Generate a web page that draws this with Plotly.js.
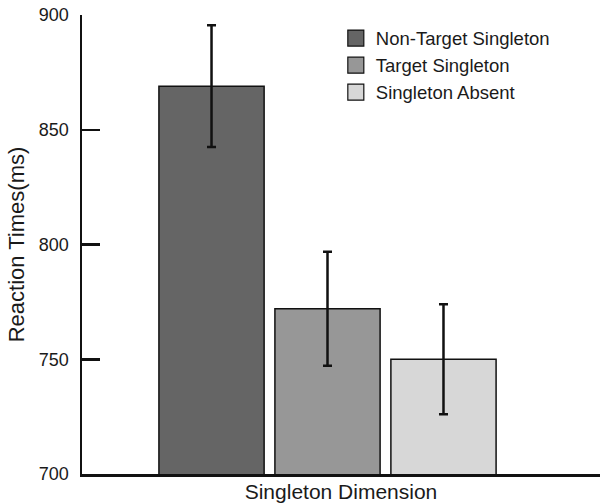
<!DOCTYPE html>
<html>
<head>
<meta charset="utf-8">
<script src="https://cdn.plot.ly/plotly-3.0.1.min.js"></script>
<style>html,body{margin:0;padding:0;background:#fff;}#chart{width:600px;height:504px;}</style>
</head>
<body>
<div id="chart"></div>
<script>
var seriesNames = ["Non-Target Singleton", "Target Singleton", "Singleton Absent"];
var category = ["Singleton Dimension"];
var meanRT = [869, 772, 750];
var errorRT = [26.5, 24.8, 24];
var barColors = ["#656565", "#979797", "#d7d7d7"];
var yTicks = [700, 750, 800, 850, 900];

var traces = [];
for (var i = 0; i < seriesNames.length; i++) {
  traces.push({
    type: "bar",
    name: seriesNames[i],
    x: category,
    y: [meanRT[i]],
    marker: {color: barColors[i], line: {color: "#111", width: 1.5}},
    error_y: {type: "data", array: [errorRT[i]], visible: true, color: "#111", thickness: 2.5, width: 4.5},
    showlegend: false
  });
}
for (var j = 0; j < seriesNames.length; j++) {
  traces.push({
    type: "scatter",
    mode: "markers",
    name: seriesNames[j],
    x: [null],
    y: [null],
    marker: {symbol: "square", size: 19, color: barColors[j], line: {color: "#111", width: 1.2}},
    showlegend: true,
    hoverinfo: "skip"
  });
}

var layout = {
  width: 600,
  height: 504,
  margin: {l: 82, r: 0, t: 15, b: 30},
  paper_bgcolor: "#fff",
  plot_bgcolor: "#fff",
  font: {family: "Liberation Sans, Arial, sans-serif", color: "#1a1a1a", size: 18},
  barmode: "group",
  bargap: 0.3,
  bargroupgap: 0.093,
  showlegend: true,
  legend: {x: 0.49, xanchor: "left", y: 0.99, yanchor: "top", font: {size: 18.5}, bgcolor: "rgba(0,0,0,0)", tracegroupgap: 0},
  xaxis: {
    type: "category",
    range: [-0.4939, 0.5482],
    showticklabels: false,
    ticks: "",
    showline: true,
    linecolor: "#111",
    linewidth: 2.5,
    showgrid: false,
    zeroline: false,
    title: {text: "Singleton Dimension", font: {size: 21}, standoff: 9}
  },
  yaxis: {
    range: [700, 900],
    tickvals: yTicks,
    ticktext: yTicks.map(String),
    ticks: "inside",
    ticklen: 18,
    tickwidth: 2.5,
    tickcolor: "#111",
    ticklabelstandoff: 7,
    tickfont: {size: 18},
    showline: true,
    linecolor: "#111",
    linewidth: 2.5,
    showgrid: false,
    zeroline: false,
    title: {text: "Reaction Times(ms)", font: {size: 22}, standoff: 8}
  }
};

Plotly.newPlot("chart", traces, layout, {displayModeBar: false, staticPlot: true});
</script>
</body>
</html>
